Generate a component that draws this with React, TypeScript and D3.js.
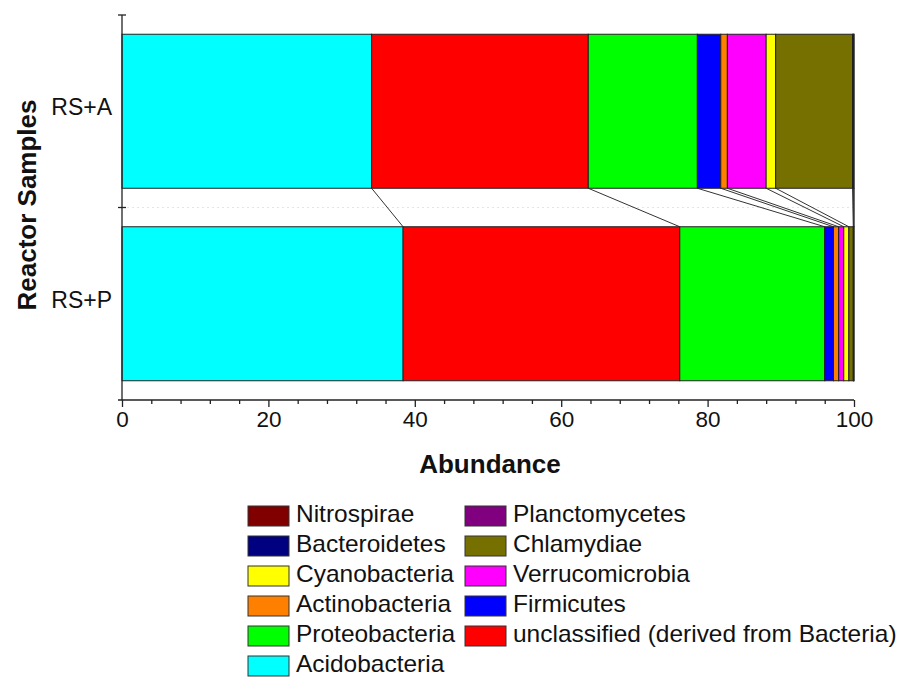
import React, { useEffect, useRef } from "react";
import * as d3 from "d3";

const samples = ["RS+A", "RS+P"];

// stacking order, left to right
const phyla = [
  "Acidobacteria",
  "unclassified (derived from Bacteria)",
  "Proteobacteria",
  "Firmicutes",
  "Actinobacteria",
  "Verrucomicrobia",
  "Cyanobacteria",
  "Chlamydiae",
  "Bacteroidetes",
  "Planctomycetes",
  "Nitrospirae",
];

// values per phylum: [RS+A, RS+P]
const acidobacteria = [34.1, 38.4];
const unclassified = [29.6, 37.8];
const proteobacteria = [14.9, 19.8];
const firmicutes = [3.2, 1.2];
const actinobacteria = [0.9, 0.7];
const verrucomicrobia = [5.3, 0.7];
const cyanobacteria = [1.3, 0.7];
const chlamydiae = [10.5, 0.6];
const bacteroidetes = [0.15, 0.05];
const planctomycetes = [0.03, 0.03];
const nitrospirae = [0.02, 0.02];

const seriesValues = [
  acidobacteria, unclassified, proteobacteria, firmicutes, actinobacteria,
  verrucomicrobia, cyanobacteria, chlamydiae, bacteroidetes, planctomycetes, nitrospirae,
];

const colors = [
  "#00ffff", "#ff0000", "#00ff00", "#0000ff", "#ff8000",
  "#ff00ff", "#ffff00", "#767000", "#000080", "#800080", "#800000",
];

// legend columns as in the figure
const legendCol1 = ["Nitrospirae", "Bacteroidetes", "Cyanobacteria", "Actinobacteria", "Proteobacteria", "Acidobacteria"];
const legendCol2 = ["Planctomycetes", "Chlamydiae", "Verrucomicrobia", "Firmicutes", "unclassified (derived from Bacteria)"];

const xTicks = [0, 20, 40, 60, 80, 100];

const App: React.FC = () => {
  const svgRef = useRef<SVGSVGElement | null>(null);

  useEffect(() => {
    if (!svgRef.current) return;
    document.body.style.margin = "0";

    const font = "'Liberation Sans', Arial, sans-serif";
    const svg = d3.select(svgRef.current);
    svg.selectAll("*").remove();

    const x = d3.scaleLinear().domain([0, 100]).range([122, 854]);
    const y = d3.scaleBand().domain(samples).range([15, 400]).paddingInner(0.2).paddingOuter(0.1);

    const table = samples.map((s, i) => {
      const row: Record<string, number | string> = { sample: s };
      phyla.forEach((p, j) => (row[p] = seriesValues[j][i]));
      return row;
    });
    const stack = d3.stack<Record<string, number | string>>().keys(phyla);
    const series = stack(table as any);

    // faint grid line in the gap
    svg.append("line")
      .attr("x1", x(0)).attr("x2", x(100))
      .attr("y1", 207.5).attr("y2", 207.5)
      .attr("stroke", "#e4e4e4").attr("stroke-dasharray", "2,3");

    // connector lines between bars
    const bottomA = (y("RS+A") ?? 0) + y.bandwidth();
    const topP = y("RS+P") ?? 0;
    series.forEach(s => {
      const a = s[0][1];
      const p = s[1][1];
      svg.append("line")
        .attr("x1", x(a)).attr("y1", bottomA)
        .attr("x2", x(p)).attr("y2", topP)
        .attr("stroke", "#333").attr("stroke-width", 1);
    });

    // bars
    series.forEach((s, j) => {
      svg.append("g")
        .selectAll("rect")
        .data(s)
        .enter()
        .append("rect")
        .attr("x", d => x(d[0]))
        .attr("y", (d, i) => y(samples[i]) ?? 0)
        .attr("width", d => Math.max(0, x(d[1]) - x(d[0])))
        .attr("height", y.bandwidth())
        .attr("fill", colors[j])
        .attr("stroke", "#222")
        .attr("stroke-width", 1);
    });

    // x axis
    const xAxis = svg.append("g").attr("transform", "translate(0,400)");
    xAxis.call(d3.axisBottom(x).tickValues(xTicks).tickSize(7).tickSizeOuter(0).tickPadding(4));
    xAxis.append("g").call(
      d3.axisBottom(x).tickValues(d3.range(0, 101, 4).filter(v => v % 20 !== 0)).tickSize(4).tickSizeOuter(0).tickFormat(() => "")
    ).select(".domain").remove();
    xAxis.select(".domain").attr("d", `M${x(0) - 4},0H${x(100)}`);
    xAxis.selectAll("line").attr("stroke", "#222").attr("stroke-width", 1.3);
    xAxis.selectAll("path").attr("stroke", "#222").attr("stroke-width", 1.3);
    xAxis.selectAll("text").attr("font-family", font).attr("font-size", 22.5).attr("fill", "#111");

    // y axis
    const yAxis = svg.append("g").attr("transform", `translate(${x(0)},0)`);
    yAxis.append("line").attr("x1", 0).attr("x2", 0).attr("y1", 15).attr("y2", 400)
      .attr("stroke", "#222").attr("stroke-width", 1.3);
    [15, 207.5].forEach(v => {
      yAxis.append("line").attr("x1", -4).attr("x2", 4).attr("y1", v).attr("y2", v)
        .attr("stroke", "#222").attr("stroke-width", 1.3);
    });
    samples.forEach(s => {
      yAxis.append("text")
        .attr("x", -10)
        .attr("y", (y(s) ?? 0) + y.bandwidth() / 2 - 2)
        .attr("text-anchor", "end")
        .attr("dominant-baseline", "middle")
        .attr("font-family", font)
        .attr("font-size", 23)
        .attr("fill", "#111")
        .text(s);
    });

    // axis titles
    svg.append("text")
      .attr("x", (x(0) + x(100)) / 2 + 2)
      .attr("y", 473)
      .attr("text-anchor", "middle")
      .attr("font-family", font)
      .attr("font-weight", "bold")
      .attr("font-size", 26)
      .attr("fill", "#111")
      .text("Abundance");

    svg.append("text")
      .attr("transform", "translate(36,205) rotate(-90)")
      .attr("text-anchor", "middle")
      .attr("font-family", font)
      .attr("font-weight", "bold")
      .attr("font-size", 26)
      .attr("fill", "#111")
      .text("Reactor Samples");

    // legend
    const colorOf = (name: string) => colors[phyla.indexOf(name)];
    const cols = [
      { items: legendCol1, x: 248 },
      { items: legendCol2, x: 465 },
    ];
    cols.forEach(c => {
      c.items.forEach((name, i) => {
        const cy = 516 + i * 30;
        svg.append("rect")
          .attr("x", c.x).attr("y", cy - 10)
          .attr("width", 41).attr("height", 20)
          .attr("fill", colorOf(name))
          .attr("stroke", "#333").attr("stroke-width", 1);
        svg.append("text")
          .attr("transform", `translate(${c.x + 48},${cy}) scale(1.02,1)`)
          .attr("dominant-baseline", "middle")
          .attr("font-family", font)
          .attr("font-size", 24)
          .attr("fill", "#111")
          .text(name);
      });
    });
  }, []);

  return <svg ref={svgRef} width={910} height={677} style={{ display: "block", background: "#fff" }}></svg>;
};

export default App;
